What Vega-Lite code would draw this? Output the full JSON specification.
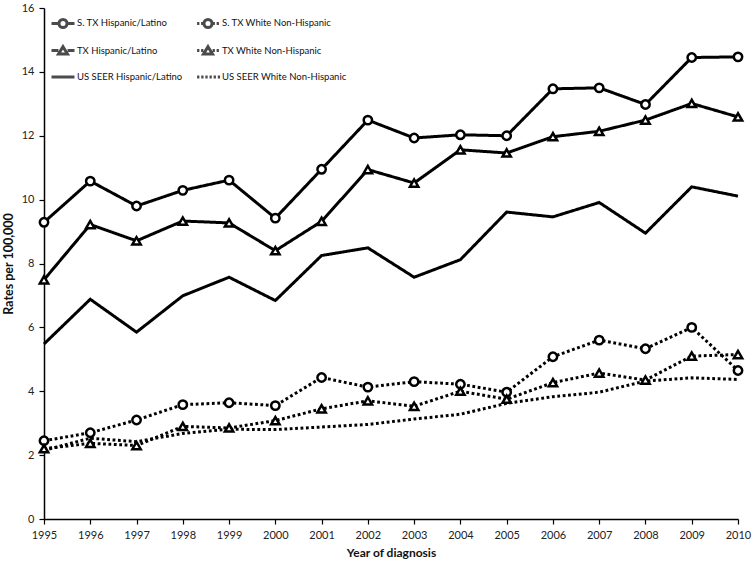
{
  "$schema": "https://vega.github.io/schema/vega-lite/v6.json",
  "width": 694,
  "height": 511,
  "autosize": "none",
  "padding": {"left": 44, "top": 8, "right": 16, "bottom": 45},
  "background": "white",
  "config": {
    "view": {"stroke": null},
    "font": "Lato",
    "axis": {
      "grid": false,
      "domainColor": "black",
      "domainWidth": 1.5,
      "tickColor": "black",
      "tickWidth": 1.2,
      "tickSize": 5,
      "labelFont": "Lato",
      "labelFontSize": 11,
      "labelColor": "#222",
      "titleFont": "Lato",
      "titleFontWeight": "bold",
      "titleColor": "#111"
    }
  },
  "data": {
    "values": [
      {"year": 1995, "series": "S. TX Hispanic/Latino", "rate": 9.29},
      {"year": 1996, "series": "S. TX Hispanic/Latino", "rate": 10.58},
      {"year": 1997, "series": "S. TX Hispanic/Latino", "rate": 9.80},
      {"year": 1998, "series": "S. TX Hispanic/Latino", "rate": 10.29},
      {"year": 1999, "series": "S. TX Hispanic/Latino", "rate": 10.61},
      {"year": 2000, "series": "S. TX Hispanic/Latino", "rate": 9.42},
      {"year": 2001, "series": "S. TX Hispanic/Latino", "rate": 10.95},
      {"year": 2002, "series": "S. TX Hispanic/Latino", "rate": 12.49},
      {"year": 2003, "series": "S. TX Hispanic/Latino", "rate": 11.93},
      {"year": 2004, "series": "S. TX Hispanic/Latino", "rate": 12.03},
      {"year": 2005, "series": "S. TX Hispanic/Latino", "rate": 12.00},
      {"year": 2006, "series": "S. TX Hispanic/Latino", "rate": 13.47},
      {"year": 2007, "series": "S. TX Hispanic/Latino", "rate": 13.50},
      {"year": 2008, "series": "S. TX Hispanic/Latino", "rate": 12.98},
      {"year": 2009, "series": "S. TX Hispanic/Latino", "rate": 14.45},
      {"year": 2010, "series": "S. TX Hispanic/Latino", "rate": 14.47},
      {"year": 1995, "series": "TX Hispanic/Latino", "rate": 7.49},
      {"year": 1996, "series": "TX Hispanic/Latino", "rate": 9.22},
      {"year": 1997, "series": "TX Hispanic/Latino", "rate": 8.71},
      {"year": 1998, "series": "TX Hispanic/Latino", "rate": 9.33},
      {"year": 1999, "series": "TX Hispanic/Latino", "rate": 9.27},
      {"year": 2000, "series": "TX Hispanic/Latino", "rate": 8.40},
      {"year": 2001, "series": "TX Hispanic/Latino", "rate": 9.32},
      {"year": 2002, "series": "TX Hispanic/Latino", "rate": 10.94},
      {"year": 2003, "series": "TX Hispanic/Latino", "rate": 10.52},
      {"year": 2004, "series": "TX Hispanic/Latino", "rate": 11.56},
      {"year": 2005, "series": "TX Hispanic/Latino", "rate": 11.46},
      {"year": 2006, "series": "TX Hispanic/Latino", "rate": 11.97},
      {"year": 2007, "series": "TX Hispanic/Latino", "rate": 12.14},
      {"year": 2008, "series": "TX Hispanic/Latino", "rate": 12.49},
      {"year": 2009, "series": "TX Hispanic/Latino", "rate": 13.01},
      {"year": 2010, "series": "TX Hispanic/Latino", "rate": 12.59},
      {"year": 1995, "series": "US SEER Hispanic/Latino", "rate": 5.48},
      {"year": 1996, "series": "US SEER Hispanic/Latino", "rate": 6.88},
      {"year": 1997, "series": "US SEER Hispanic/Latino", "rate": 5.85},
      {"year": 1998, "series": "US SEER Hispanic/Latino", "rate": 6.99},
      {"year": 1999, "series": "US SEER Hispanic/Latino", "rate": 7.57},
      {"year": 2000, "series": "US SEER Hispanic/Latino", "rate": 6.84},
      {"year": 2001, "series": "US SEER Hispanic/Latino", "rate": 8.25},
      {"year": 2002, "series": "US SEER Hispanic/Latino", "rate": 8.49},
      {"year": 2003, "series": "US SEER Hispanic/Latino", "rate": 7.57},
      {"year": 2004, "series": "US SEER Hispanic/Latino", "rate": 8.12},
      {"year": 2005, "series": "US SEER Hispanic/Latino", "rate": 9.61},
      {"year": 2006, "series": "US SEER Hispanic/Latino", "rate": 9.46},
      {"year": 2007, "series": "US SEER Hispanic/Latino", "rate": 9.91},
      {"year": 2008, "series": "US SEER Hispanic/Latino", "rate": 8.95},
      {"year": 2009, "series": "US SEER Hispanic/Latino", "rate": 10.40},
      {"year": 2010, "series": "US SEER Hispanic/Latino", "rate": 10.11},
      {"year": 1995, "series": "S. TX White Non-Hispanic", "rate": 2.45},
      {"year": 1996, "series": "S. TX White Non-Hispanic", "rate": 2.70},
      {"year": 1997, "series": "S. TX White Non-Hispanic", "rate": 3.10},
      {"year": 1998, "series": "S. TX White Non-Hispanic", "rate": 3.58},
      {"year": 1999, "series": "S. TX White Non-Hispanic", "rate": 3.64},
      {"year": 2000, "series": "S. TX White Non-Hispanic", "rate": 3.55},
      {"year": 2001, "series": "S. TX White Non-Hispanic", "rate": 4.43},
      {"year": 2002, "series": "S. TX White Non-Hispanic", "rate": 4.13},
      {"year": 2003, "series": "S. TX White Non-Hispanic", "rate": 4.30},
      {"year": 2004, "series": "S. TX White Non-Hispanic", "rate": 4.22},
      {"year": 2005, "series": "S. TX White Non-Hispanic", "rate": 3.97},
      {"year": 2006, "series": "S. TX White Non-Hispanic", "rate": 5.08},
      {"year": 2007, "series": "S. TX White Non-Hispanic", "rate": 5.60},
      {"year": 2008, "series": "S. TX White Non-Hispanic", "rate": 5.33},
      {"year": 2009, "series": "S. TX White Non-Hispanic", "rate": 6.00},
      {"year": 2010, "series": "S. TX White Non-Hispanic", "rate": 4.65},
      {"year": 1995, "series": "TX White Non-Hispanic", "rate": 2.20},
      {"year": 1996, "series": "TX White Non-Hispanic", "rate": 2.37},
      {"year": 1997, "series": "TX White Non-Hispanic", "rate": 2.30},
      {"year": 1998, "series": "TX White Non-Hispanic", "rate": 2.90},
      {"year": 1999, "series": "TX White Non-Hispanic", "rate": 2.85},
      {"year": 2000, "series": "TX White Non-Hispanic", "rate": 3.08},
      {"year": 2001, "series": "TX White Non-Hispanic", "rate": 3.45},
      {"year": 2002, "series": "TX White Non-Hispanic", "rate": 3.70},
      {"year": 2003, "series": "TX White Non-Hispanic", "rate": 3.53},
      {"year": 2004, "series": "TX White Non-Hispanic", "rate": 4.00},
      {"year": 2005, "series": "TX White Non-Hispanic", "rate": 3.75},
      {"year": 2006, "series": "TX White Non-Hispanic", "rate": 4.27},
      {"year": 2007, "series": "TX White Non-Hispanic", "rate": 4.57},
      {"year": 2008, "series": "TX White Non-Hispanic", "rate": 4.35},
      {"year": 2009, "series": "TX White Non-Hispanic", "rate": 5.10},
      {"year": 2010, "series": "TX White Non-Hispanic", "rate": 5.15},
      {"year": 1995, "series": "US SEER White Non-Hispanic", "rate": 2.15},
      {"year": 1996, "series": "US SEER White Non-Hispanic", "rate": 2.53},
      {"year": 1997, "series": "US SEER White Non-Hispanic", "rate": 2.42},
      {"year": 1998, "series": "US SEER White Non-Hispanic", "rate": 2.68},
      {"year": 1999, "series": "US SEER White Non-Hispanic", "rate": 2.81},
      {"year": 2000, "series": "US SEER White Non-Hispanic", "rate": 2.80},
      {"year": 2001, "series": "US SEER White Non-Hispanic", "rate": 2.88},
      {"year": 2002, "series": "US SEER White Non-Hispanic", "rate": 2.96},
      {"year": 2003, "series": "US SEER White Non-Hispanic", "rate": 3.13},
      {"year": 2004, "series": "US SEER White Non-Hispanic", "rate": 3.28},
      {"year": 2005, "series": "US SEER White Non-Hispanic", "rate": 3.62},
      {"year": 2006, "series": "US SEER White Non-Hispanic", "rate": 3.83},
      {"year": 2007, "series": "US SEER White Non-Hispanic", "rate": 3.97},
      {"year": 2008, "series": "US SEER White Non-Hispanic", "rate": 4.32},
      {"year": 2009, "series": "US SEER White Non-Hispanic", "rate": 4.42},
      {"year": 2010, "series": "US SEER White Non-Hispanic", "rate": 4.37}
    ]
  },
  "encoding": {
    "x": {
      "field": "year",
      "type": "quantitative",
      "scale": {"domain": [1995, 2010], "nice": false, "zero": false},
      "axis": {
        "title": "Year of diagnosis",
        "values": [1995, 1996, 1997, 1998, 1999, 2000, 2001, 2002, 2003, 2004, 2005, 2006, 2007, 2008, 2009, 2010],
        "format": "d",
        "labelFlush": false,
        "labelPadding": 5,
        "titlePadding": 7,
        "titleFontSize": 12
      }
    },
    "y": {
      "field": "rate",
      "type": "quantitative",
      "scale": {"domain": [0, 16], "nice": false},
      "axis": {
        "title": "Rates per 100,000",
        "values": [0, 2, 4, 6, 8, 10, 12, 14, 16],
        "labelPadding": 5,
        "titlePadding": 6,
        "titleFontSize": 12.5
      }
    }
  },
  "layer": [
    {
      "mark": {"type": "line", "color": "black", "strokeWidth": 3, "strokeCap": "butt", "strokeJoin": "miter"},
      "encoding": {
        "detail": {"field": "series"},
        "strokeDash": {
          "field": "series",
          "type": "nominal",
          "scale": {
            "domain": ["S. TX Hispanic/Latino", "S. TX White Non-Hispanic", "TX Hispanic/Latino", "TX White Non-Hispanic", "US SEER Hispanic/Latino", "US SEER White Non-Hispanic"],
            "range": [[1, 0], [2.8, 2.6], [1, 0], [2.8, 2.6], [1, 0], [2.8, 2.6]]
          },
          "legend": null
        }
      }
    },
    {
      "transform": [{"filter": {"field": "series", "oneOf": ["S. TX Hispanic/Latino", "S. TX White Non-Hispanic", "TX Hispanic/Latino", "TX White Non-Hispanic"]}}],
      "mark": {"type": "point", "filled": true, "fill": "white", "stroke": "black", "strokeWidth": 2.5, "opacity": 1},
      "encoding": {
        "shape": {
          "field": "series",
          "type": "nominal",
          "scale": {
            "domain": ["S. TX Hispanic/Latino", "S. TX White Non-Hispanic", "TX Hispanic/Latino", "TX White Non-Hispanic"],
            "range": ["circle", "circle", "triangle-up", "triangle-up"]
          },
          "legend": null
        },
        "size": {"value": 70}
      }
    },
    {
      "transform": [{"filter": "datum.year < 0"}],
      "mark": {"type": "point", "filled": true, "fill": "white", "stroke": "black", "strokeWidth": 3},
      "encoding": {
        "shape": {
          "field": "series",
          "type": "nominal",
          "scale": {
            "domain": ["S. TX Hispanic/Latino", "S. TX White Non-Hispanic", "TX Hispanic/Latino", "TX White Non-Hispanic", "US SEER Hispanic/Latino", "US SEER White Non-Hispanic"],
            "range": [
              "M-1,0L-0.36,0M0.36,0L1,0M0.35,0A0.35,0.35,0,1,1,-0.35,0A0.35,0.35,0,1,1,0.35,0Z",
              "M-0.95,0L-0.75,0M-0.6,0L-0.4,0M0.4,0L0.6,0M0.75,0L0.95,0M0.35,0A0.35,0.35,0,1,1,-0.35,0A0.35,0.35,0,1,1,0.35,0Z",
              "M-1,0L-0.4,0M0.4,0L1,0M0,-0.33L0.39,0.3L-0.39,0.3Z",
              "M-0.95,0L-0.75,0M-0.6,0L-0.4,0M0.4,0L0.6,0M0.75,0L0.95,0M0,-0.33L0.39,0.3L-0.39,0.3Z",
              "M-1,0L1,0",
              "M-0.95,0L-0.75,0M-0.59,0L-0.39,0M-0.23,0L-0.03,0M0.13,0L0.33,0M0.49,0L0.69,0M0.85,0L1.05,0"
            ]
          },
          "legend": {
            "title": null,
            "orient": "none",
            "legendX": 6,
            "legendY": 2,
            "direction": "horizontal",
            "columns": 2,
            "columnPadding": 8,
            "rowPadding": 3.5,
            "padding": 0,
            "symbolSize": 529,
            "symbolStrokeWidth": 3,
            "labelFont": "Lato",
            "labelFontSize": 9.5,
            "labelColor": "#111",
            "labelOffset": 1,
            "labelLimit": 300,
            "encode": {
              "symbols": {
                "update": {
                  "fill": {"value": "white"},
                  "stroke": {"value": "black"},
                  "strokeWidth": {"value": 3},
                  "opacity": {"value": 1}
                }
              }
            }
          }
        },
        "size": {"value": 529}
      }
    }
  ],
  "resolve": {"scale": {"shape": "independent"}, "legend": {"shape": "independent"}}
}
